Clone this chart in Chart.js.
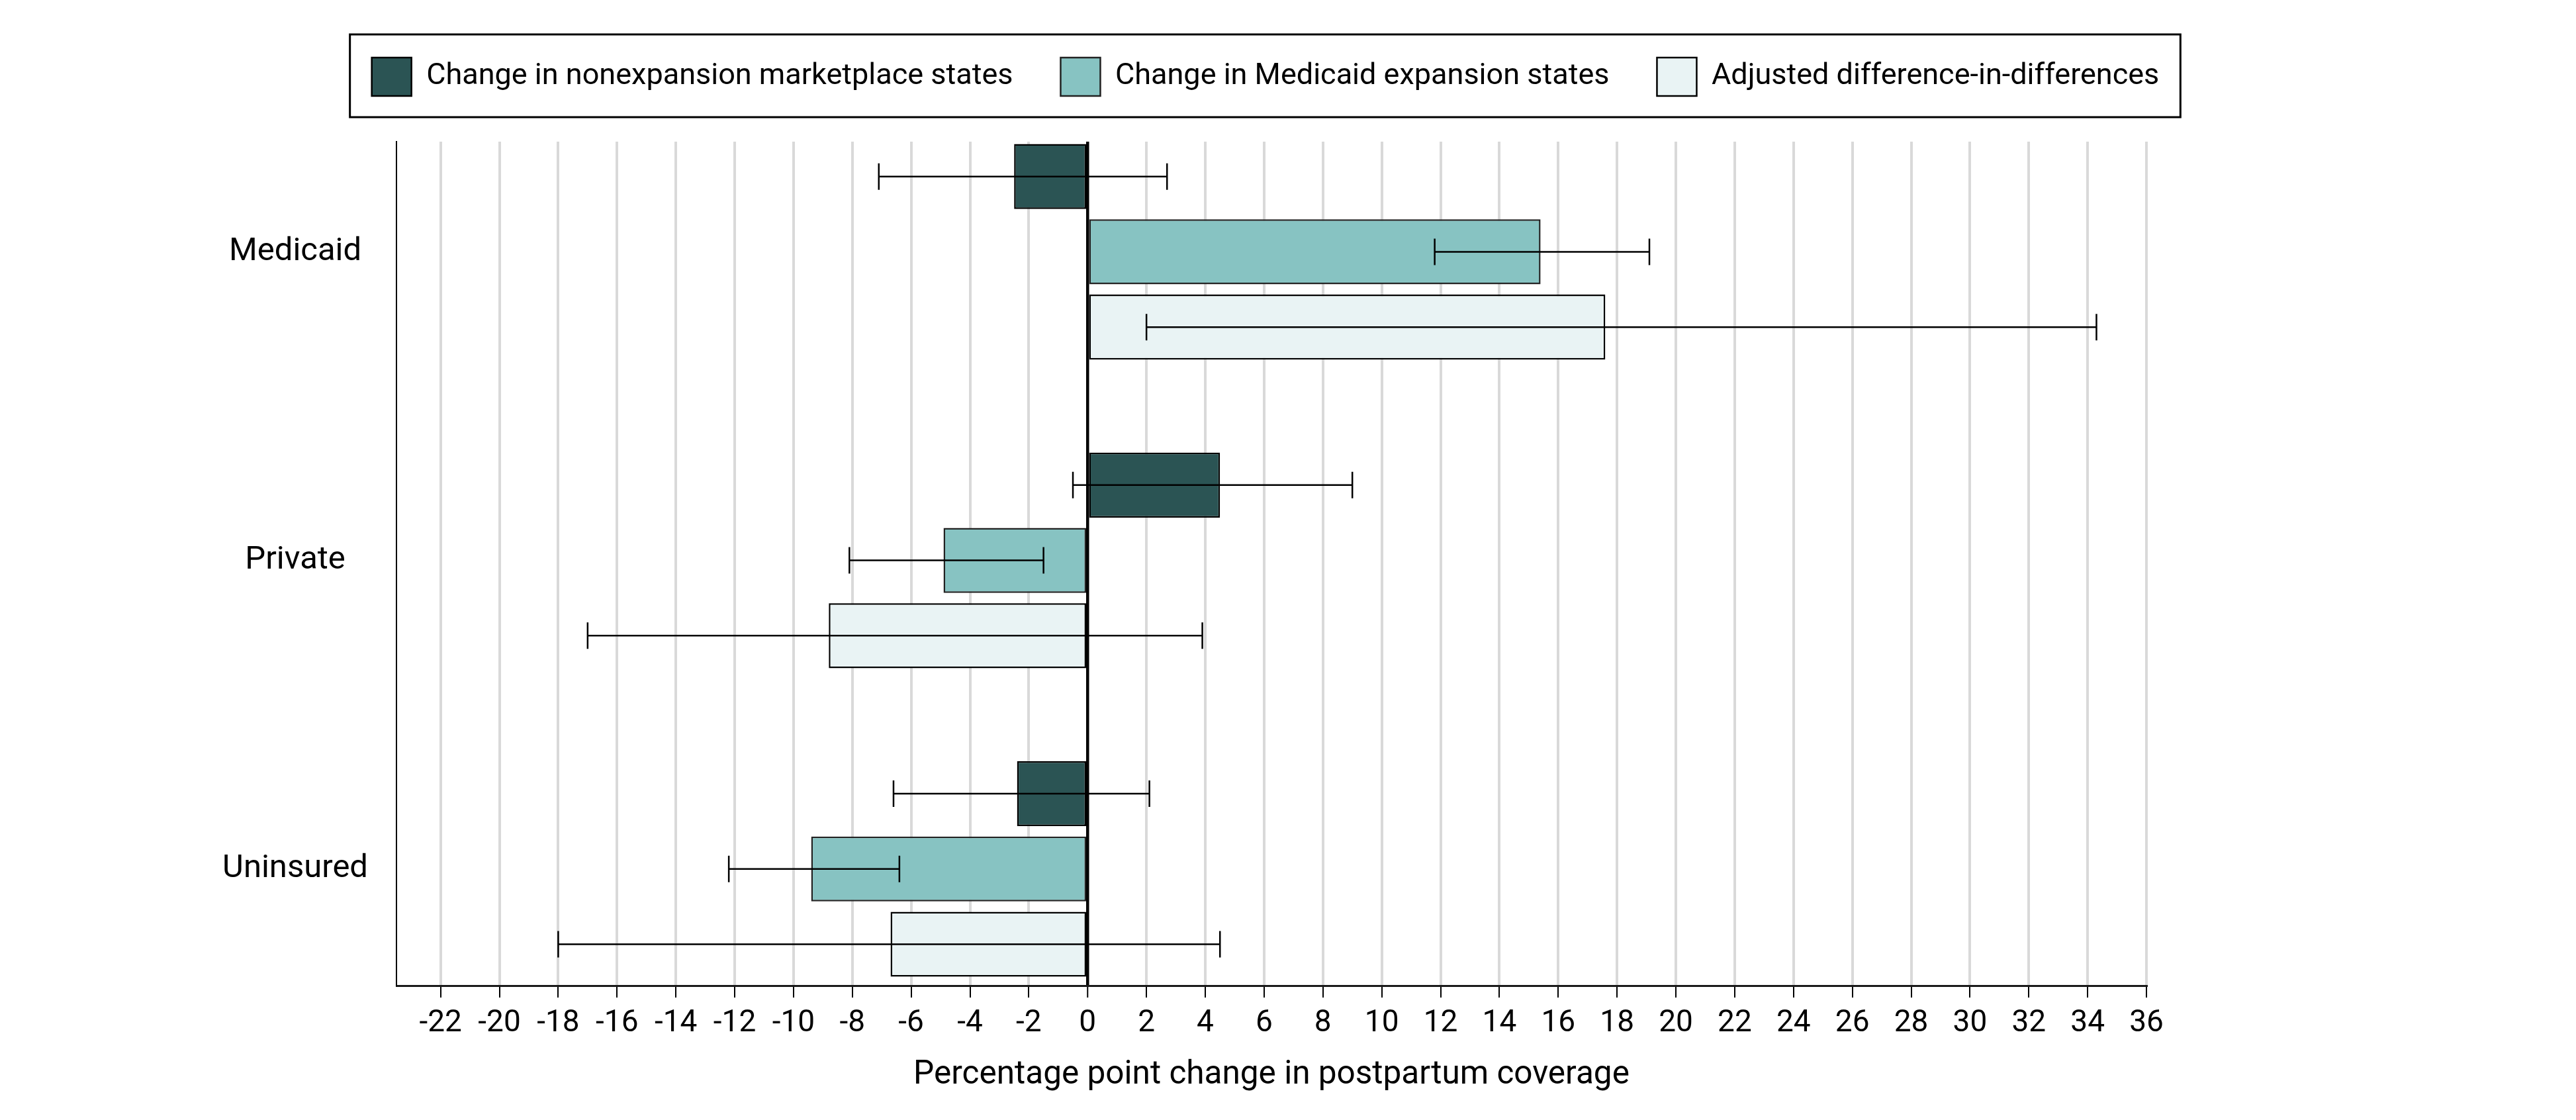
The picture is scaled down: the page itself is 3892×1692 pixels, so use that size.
<!DOCTYPE html>
<html>
<head>
<meta charset="utf-8">
<script src="https://cdn.jsdelivr.net/npm/chart.js@4"></script>
<style>
  html, body { margin: 0; padding: 0; background: #ffffff; }
  #wrap { width: 3892px; height: 1692px; }
</style>
</head>
<body>
<div id="wrap"><canvas id="c" width="3892" height="1692"></canvas></div>
<script>
// ---- data ----
const categories = ['Medicaid', 'Private', 'Uninsured'];
const seriesLabels = [
  'Change in nonexpansion marketplace states',
  'Change in Medicaid expansion states',
  'Adjusted difference-in-differences'
];
const nonexpansion     = [-2.5,  4.5, -2.4];
const nonexpansionLow  = [-7.1, -0.5, -6.6];
const nonexpansionHigh = [ 2.7,  9.0,  2.1];
const expansion        = [15.4, -4.9, -9.4];
const expansionLow     = [11.8, -8.1, -12.2];
const expansionHigh    = [19.1, -1.5, -6.4];
const did              = [17.6, -8.8, -6.7];
const didLow           = [ 2.0, -17.0, -18.0];
const didHigh          = [34.3,  3.9,  4.5];
const xTickValues = [-22, -20, -18, -16, -14, -12, -10, -8, -6, -4, -2, 0, 2, 4, 6, 8, 10,
                     12, 14, 16, 18, 20, 22, 24, 26, 28, 30, 32, 34, 36];
const xTitle = 'Percentage point change in postpartum coverage';

const FONT = 'Roboto, "Liberation Sans", Arial, sans-serif';
Chart.defaults.font.family = FONT;
Chart.defaults.color = '#000';

function toPoints(vals) { return vals.map((v, i) => ({ x: v, y: i })); }

const barCommon = {
  borderColor: '#000',
  borderWidth: 2.5,
  borderSkipped: false,
  categoryPercentage: 0.732,
  barPercentage: 0.863
};

const errorBars = {
  id: 'errorBars',
  afterDatasetsDraw(chart) {
    const ctx = chart.ctx;
    const xs = chart.scales.x;
    ctx.save();
    ctx.strokeStyle = '#000';
    ctx.lineWidth = 2.5;
    chart.data.datasets.forEach((ds, di) => {
      const meta = chart.getDatasetMeta(di);
      meta.data.forEach((el, j) => {
        const y = el.y;
        const x1 = xs.getPixelForValue(ds.errLow[j]);
        const x2 = xs.getPixelForValue(ds.errHigh[j]);
        ctx.beginPath();
        ctx.moveTo(x1, y); ctx.lineTo(x2, y);
        ctx.moveTo(x1, y - 20); ctx.lineTo(x1, y + 20);
        ctx.moveTo(x2, y - 20); ctx.lineTo(x2, y + 20);
        ctx.stroke();
      });
    });
    ctx.restore();
  }
};

const legendFrame = {
  id: 'legendFrame',
  afterDraw(chart) {
    const lg = chart.legend;
    if (!lg || !lg.legendHitBoxes || !lg.legendHitBoxes.length) return;
    const hb = lg.legendHitBoxes;
    const first = hb[0], last = hb[hb.length - 1];
    const left = first.left - 33;
    const right = last.left + last.width + 32;
    const top = first.top - 35;
    const bottom = first.top + first.height + 32;
    const ctx = chart.ctx;
    ctx.save();
    ctx.strokeStyle = '#000';
    ctx.lineWidth = 3;
    ctx.strokeRect(left, top, right - left, bottom - top);
    ctx.restore();
  }
};

new Chart(document.getElementById('c'), {
  type: 'bar',
  data: {
    datasets: [
      Object.assign({ label: seriesLabels[0], data: toPoints(nonexpansion), backgroundColor: '#2b5454',
        errLow: nonexpansionLow, errHigh: nonexpansionHigh }, barCommon),
      Object.assign({ label: seriesLabels[1], data: toPoints(expansion), backgroundColor: '#87c3c2',
        errLow: expansionLow, errHigh: expansionHigh }, barCommon, { borderColor: '#222' }),
      Object.assign({ label: seriesLabels[2], data: toPoints(did), backgroundColor: '#e9f3f4',
        errLow: didLow, errHigh: didHigh }, barCommon)
    ]
  },
  options: {
    indexAxis: 'y',
    responsive: false,
    animation: false,
    devicePixelRatio: 1,
    layout: { padding: { left: 300, right: 368, top: 15, bottom: 0 } },
    scales: {
      x: {
        type: 'linear',
        position: 'bottom',
        min: -23.5,
        max: 36,
        afterBuildTicks: (s) => { s.ticks = xTickValues.map(v => ({ value: v })); },
        afterFit: (s) => { s.height = 203; },
        ticks: {
          autoSkip: false,
          maxRotation: 0,
          font: { size: 46 },
          padding: 12,
          color: '#000'
        },
        grid: {
          color: (c) => (c.tick && c.tick.value === 0) ? '#000' : '#d9d9d9',
          lineWidth: (c) => (c.tick && c.tick.value === 0) ? 4.5 : 4,
          drawTicks: true,
          tickLength: 18,
          tickColor: '#000',
          tickWidth: 2
        },
        border: { display: true, color: '#1a1a1a', width: 3 },
        title: {
          display: true,
          text: xTitle,
          font: { size: 49.5 },
          color: '#000',
          padding: { top: 0, bottom: 38 }
        }
      },
      y: {
        type: 'linear',
        position: 'left',
        reverse: true,
        offset: false,
        min: -0.357,
        max: 2.378,
        afterBuildTicks: (s) => { s.ticks = categories.map((c, i) => ({ value: i })); },
        afterFit: (s) => { s.width = 299; },
        ticks: {
          autoSkip: false,
          crossAlign: 'center',
          padding: 43,
          font: { size: 49 },
          color: '#000',
          callback: (v) => categories[v] !== undefined ? categories[v] : ''
        },
        grid: { display: false, drawTicks: false, offset: false },
        border: { display: true, color: '#000', width: 2 }
      },
      spacerRight: {
        type: 'linear',
        position: 'right',
        display: true,
        afterFit: (s) => { s.width = 281; },
        ticks: { display: false },
        grid: { display: false, drawTicks: false },
        border: { display: false }
      },
      spacerTop: {
        type: 'linear',
        position: 'top',
        display: true,
        afterFit: (s) => { s.height = 59; },
        ticks: { display: false },
        grid: { display: false, drawTicks: false },
        border: { display: false }
      }
    },
    plugins: {
      legend: {
        position: 'top',
        fullSize: true,
        labels: {
          boxWidth: 60,
          boxHeight: 58,
          padding: 72,
          font: { size: 45 },
          color: '#000'
        }
      },
      tooltip: { enabled: false }
    }
  },
  plugins: [errorBars, legendFrame]
});
</script>
</body>
</html>
